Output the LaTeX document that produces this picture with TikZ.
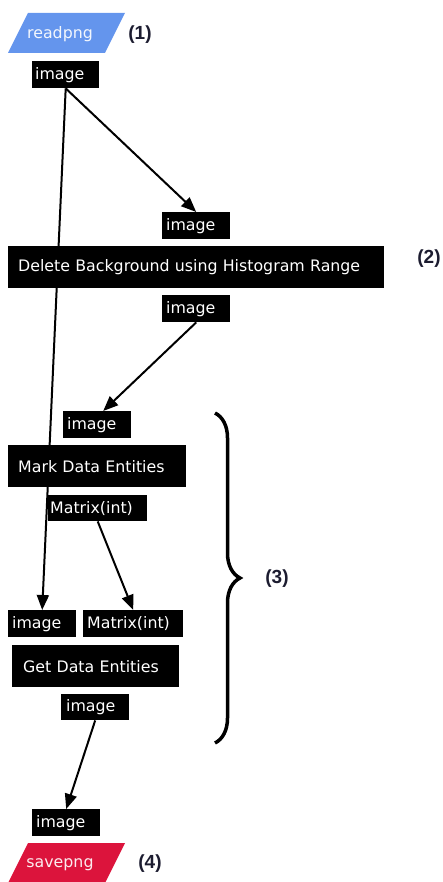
\documentclass[tikz,border=0pt]{standalone}
\usepackage{fontspec}
\setmainfont{DejaVu Sans}
\newfontfamily\labfont{Liberation Sans}
\usetikzlibrary{arrows.meta,decorations.pathreplacing}
\pgfdeclarelayer{background}
\pgfsetlayers{background,main}
\definecolor{readblue}{HTML}{6495ED}
\definecolor{savered}{HTML}{DC143C}
\definecolor{labink}{HTML}{1C1C30}
\tikzset{
  port/.style args={#1/#2/#3}{anchor=north west, fill=black, text=white,
    minimum width=#1pt, minimum height=#2pt, inner xsep=#3pt, inner ysep=0pt,
    text width=#1pt-2*#3pt, align=left, font=\fontsize{15.8}{17}\selectfont},
  flow/.style={line width=2pt, -{Triangle[length=15pt,width=12pt]}},
  steplabel/.style={text=labink, font=\labfont\bfseries\fontsize{19}{21}\selectfont},
  iotext/.style={font=\fontsize{15.8}{17}\selectfont},
}
\begin{document}
\begin{tikzpicture}[x=1pt,y=-1pt]
\useasboundingbox (0,0) rectangle (443,882);

% input / output blocks
\fill[readblue] (8,53) -- (105,53) -- (125,13) -- (28,13) -- cycle;
\node[iotext, text=white!92!readblue] (readpng) at (60,34) {readpng};
\fill[savered] (8,883) -- (105,883) -- (125,843) -- (28,843) -- cycle;
\node[iotext, text=white!92!savered] (savepng) at (60,865) {savepng};

% data ports and processing steps
\node[port=67/27/3] (img1) at (32,61) {image};
\node[port=68/27/4] (img2) at (162,212) {image};
\node[port=376/42/10] (del) at (8,246) {Delete Background using Histogram Range};
\node[port=68/27/4] (img3) at (162,295) {image};
\node[port=68/27/4] (img4) at (63,411) {image};
\node[port=178/42/10] (mark) at (8,445) {Mark Data Entities};
\node[port=99/26/2] (mat1) at (48,495) {Matrix(int)};
\node[port=68/27/4] (img5) at (8,610) {image};
\node[port=100/27/4] (mat2) at (83,610) {Matrix(int)};
\node[port=167/42/11] (get) at (12,645) {Get Data Entities};
\node[port=68/26/5] (img6) at (61,694) {image};
\node[port=68/27/4] (img7) at (32,809) {image};

% connectors, kept behind the boxes
\begin{pgfonlayer}{background}
\draw[flow] (img1.south) -- (img2.north);
\draw[flow] (img1.south) -- (img5.north);
\draw[flow] (img3.south) -- ([xshift=6pt]img4.north);
\draw[flow] (mat1.south) -- (mat2.north);
\draw[flow] (img6.south) -- (img7.north);
\end{pgfonlayer}

% step labels
\node[steplabel] (l1) at (140,35) {(1)};
\node[steplabel] (l2) at (429,259) {(2)};
\node[steplabel] (l3) at (277,579) {(3)};
\node[steplabel] (l4) at (150,864) {(4)};

% group brace
\coordinate (bt) at (215,413);
\coordinate (bb) at (215,743);
\draw[line width=3.5pt, decorate, decoration={brace, amplitude=25pt}] (bt) -- (bb);
\end{tikzpicture}
\end{document}
